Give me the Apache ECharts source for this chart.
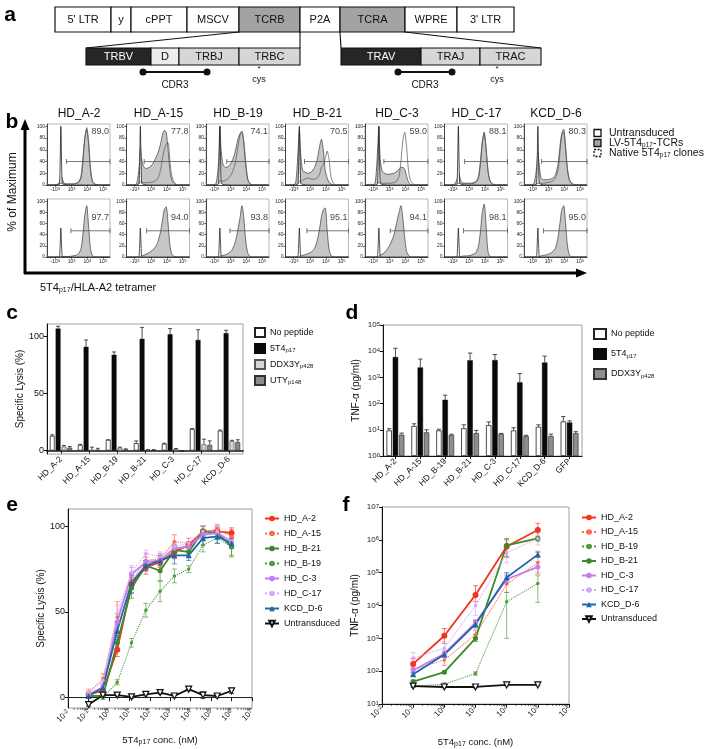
<!DOCTYPE html>
<html><head><meta charset="utf-8">
<script src="https://cdn.jsdelivr.net/npm/echarts@6/dist/echarts.min.js"></script>
<style>html,body{margin:0;padding:0;background:#fff}#c{width:709px;height:749px}</style>
</head><body><div id="c"></div>
<script>
// ================= DATA =================
// Panel a: vector map labels
var vectorTop = ["5' LTR", "y", "cPPT", "MSCV", "TCRB", "P2A", "TCRA", "WPRE", "3' LTR"];
var vectorBeta = ["TRBV", "D", "TRBJ", "TRBC"];
var vectorAlpha = ["TRAV", "TRAJ", "TRAC"];

// Panel b: flow histograms (x = display position on biexponential scale 0-100)
var donors = ["HD_A-2", "HD_A-15", "HD_B-19", "HD_B-21", "HD_C-3", "HD_C-17", "KCD_D-6"];
var histTickPos = [13, 22, 39, 64, 89];
var histTickText = ["-10{s|3}", "0", "10{s|3}", "10{s|4}", "10{s|5}"];
var histX = [0, 10, 16, 20, 22, 24, 27, 31, 36, 41, 46, 50, 54, 57, 60, 63, 66, 69, 72, 76, 82, 100];
var histUntrTop = [0, 0, 0, 2, 100, 3, 1, 0.5, 0, 0, 0, 0, 0, 0, 0, 0, 0, 0, 0, 0, 0, 0];
var histUntrBottom = [0, 0, 0, 1, 52, 1, 0, 0, 0, 0, 0, 0, 0, 0, 0, 0, 0, 0, 0, 0, 0, 0];
var histLVTop = [
  [0, 0, 1, 5, 15, 12, 3, 2, 2, 2, 3, 5, 15, 45, 80, 95, 70, 25, 6, 1, 0, 0],
  [0, 0, 2, 30, 65, 45, 32, 28, 30, 35, 45, 55, 70, 85, 93, 90, 60, 25, 8, 2, 0, 0],
  [0, 0, 3, 40, 100, 60, 35, 30, 32, 40, 55, 75, 88, 90, 70, 35, 10, 3, 1, 0, 0, 0],
  [0, 0, 3, 60, 95, 55, 25, 22, 20, 22, 30, 42, 65, 78, 60, 25, 12, 5, 2, 0, 0, 0],
  [0, 0, 3, 60, 100, 45, 25, 20, 18, 19, 20, 23, 27, 30, 30, 27, 15, 5, 1, 0, 0, 0],
  [0, 0, 2, 10, 22, 15, 5, 3, 3, 3, 4, 6, 15, 40, 75, 90, 60, 25, 8, 2, 0, 0],
  [0, 0, 3, 30, 55, 35, 12, 9, 9, 10, 12, 18, 35, 65, 88, 95, 65, 28, 10, 3, 0, 0]
];
var histNativeTop = [
  [0, 0, 0, 1, 3, 2, 1, 1, 1, 1, 2, 4, 12, 40, 80, 98, 75, 30, 8, 2, 0, 0],
  [0, 0, 0, 2, 6, 5, 4, 4, 4, 5, 7, 12, 25, 45, 60, 70, 72, 40, 15, 4, 0, 0],
  [0, 0, 0, 2, 8, 8, 6, 8, 12, 20, 35, 60, 85, 92, 75, 40, 12, 3, 1, 0, 0, 0],
  [0, 0, 0, 2, 6, 6, 8, 10, 12, 10, 10, 12, 18, 30, 35, 45, 58, 45, 15, 3, 0, 0],
  [0, 0, 0, 2, 5, 4, 3, 3, 3, 3, 4, 6, 15, 40, 75, 90, 65, 25, 8, 2, 0, 0],
  [0, 0, 0, 1, 3, 3, 2, 2, 2, 2, 3, 5, 12, 35, 70, 88, 65, 25, 8, 2, 0, 0],
  [0, 0, 0, 1, 3, 3, 3, 3, 4, 5, 7, 12, 25, 55, 85, 90, 60, 25, 8, 2, 0, 0]
];
var histLVBottom = [
  [0, 0, 0, 0, 1, 1, 1, 1, 1, 2, 3, 6, 15, 40, 75, 92, 55, 15, 3, 0, 0, 0],
  [0, 0, 0, 0, 1, 2, 3, 5, 8, 12, 18, 28, 45, 65, 85, 90, 60, 20, 5, 1, 0, 0],
  [0, 0, 0, 0, 1, 2, 3, 4, 7, 12, 25, 45, 70, 92, 70, 30, 8, 2, 0, 0, 0, 0],
  [0, 0, 0, 0, 1, 2, 3, 4, 6, 9, 15, 28, 50, 72, 85, 88, 50, 15, 3, 0, 0, 0],
  [0, 0, 0, 0, 1, 3, 5, 8, 15, 25, 40, 60, 80, 92, 70, 35, 10, 3, 0, 0, 0, 0],
  [0, 0, 0, 0, 1, 1, 1, 2, 2, 3, 5, 8, 20, 45, 80, 95, 55, 10, 1, 0, 0, 0],
  [0, 0, 0, 0, 1, 1, 2, 3, 4, 6, 10, 16, 35, 60, 85, 92, 60, 20, 4, 0, 0, 0]
];
var gateStartTop = [31, 28, 33, 30, 30, 32, 28];
var gateStartBottom = [38, 32, 38, 34, 40, 30, 31];
var gatePctTop = ["89.0", "77.8", "74.1", "70.5", "59.0", "88.1", "80.3"];
var gatePctBottom = ["97.7", "94.0", "93.8", "95.1", "94.1", "98.1", "95.0"];

// Panel c: specific lysis (%)
var lysisNoPep = [13, 5, 9.5, 6.5, 6, 19, 17.5];
var lysisNoPepErr = [0.8, 0.5, 0, 2, 0.5, 0.3, 0.5];
var lysis5T4 = [107, 91, 84, 98, 102, 97, 103];
var lysis5T4Err = [2, 6, 2.5, 10, 5, 9, 2.5];
var lysisDDX = [3.5, 0.5, 2.5, 0.5, 1.5, 5.5, 8.5];
var lysisDDXErr = [1, 2.5, 0.5, 0.3, 0.3, 4.5, 0.5];
var lysisUTY = [2.5, 0.5, 1, 0.5, -0.5, 5, 7.5];
var lysisUTYErr = [1, 1.5, 0.5, 0.3, 0, 3.5, 2];

// Panel d: TNF-alpha (pg/ml)
var tnfCats = ["HD_A-2", "HD_A-15", "HD_B-19", "HD_B-21", "HD_C-3", "HD_C-17", "KCD_D-6", "GFP"];
var tnfNoPep = [9.5, 14, 9.5, 11.5, 15, 9.5, 13, 21];
var tnfNoPepHi = [11, 17, 10.5, 15.5, 20, 12, 15.5, 32];
var tnf5T4 = [6000, 2400, 140, 4500, 4600, 650, 3700, 19];
var tnf5T4Hi = [13000, 5000, 210, 8500, 7500, 1400, 6500, 22];
var tnfDDX = [6.5, 8, 6.3, 7.5, 7, 5.8, 5.8, 7.5];
var tnfDDXHi = [7.5, 10, 6.8, 9.5, 7.3, 6.2, 6.8, 8.5];

// Panel e: specific lysis vs peptide concentration (nM)
var concE = [0.1024, 0.512, 2.56, 12.8, 64, 320, 1600, 8000, 40000, 200000, 1000000];
var eA2 = [2, 4, 28, 66, 76, 79, 85, 89, 97, 97, 96];
var eA2Err = [1, 1, 4, 5, 4, 3, 4, 2, 3, 3, 3];
var eA15 = [3, 11, 47, 68, 80, 81, 91, 90, 97, 98, 94];
var eA15Err = [2, 3, 9, 5, 4, 3, 4, 3, 3, 3, 4];
var eB21 = [1, 1, 32, 64, 77, 74, 86, 85, 97, 96, 88];
var eB21Err = [1, 1, 4, 6, 3, 6, 3, 3, 3, 3, 5];
var eB19 = [1, 0, 9, 32, 51, 62, 71, 75, 89, 93, 88];
var eB19Err = [1, 1, 1.5, 2.5, 4, 6, 4, 2, 4, 3, 6];
var eC3 = [2, 6, 44, 72, 79, 80, 87, 88, 95, 96, 91];
var eC3Err = [1, 2, 5, 4, 3, 3, 3, 3, 3, 3, 3];
var eC17 = [3, 10, 49, 73, 84, 82, 88, 90, 97, 97, 91];
var eC17Err = [1, 2, 5, 4, 2, 3, 3, 3, 3, 3, 3];
var eD6 = [1, 6, 39, 67, 77, 80, 83, 83, 93, 94, 90];
var eD6Err = [1, 1, 5, 6, 3, 3, 5, 3, 4, 4, 3];
var eUntr = [-4, 1.5, 1.5, 0.5, 2, 3, 1, 5, 1.5, 1, 4];
var eUntrErr = [1, 1, 1, 1, 1, 1, 1, 1, 2, 1, 1.5];

// Panel f: TNF-alpha vs peptide concentration (nM)
var concF = [0.1, 1, 10, 100, 1000];
var fA2 = [166, 1200, 21000, 630000, 2000000];
var fA2Hi = [240, 2000, 40000, 1100000, 3200000];
var fA2Lo = [120, 700, 13000, 300000, 1200000];
var fA15 = [110, 220, 1300, 45000, 200000];
var fA15Hi = [150, 300, 1800, 80000, 450000];
var fA15Lo = [80, 150, 900, 25000, 90000];
var fB19 = [35, 40, 85, 13000, 47000];
var fB19Hi = [38, 44, 95, 25000, 80000];
var fB19Lo = [32, 36, 75, 1000, 12500];
var fB21 = [48, 93, 1000, 680000, 1100000];
var fB21Hi = [55, 100, 1300, 1000000, 1300000];
var fB21Lo = [42, 85, 800, 300000, 900000];
var fC3 = [107, 340, 3000, 63000, 150000];
var fC3Hi = [130, 420, 3700, 90000, 220000];
var fC3Lo = [90, 280, 2400, 45000, 100000];
var fC17 = [250, 500, 10000, 400000, 1100000];
var fC17Hi = [370, 800, 18000, 700000, 1600000];
var fC17Lo = [170, 300, 5000, 200000, 700000];
var fD6 = [80, 320, 2700, 71000, 355000];
var fD6Hi = [90, 380, 3500, 100000, 420000];
var fD6Lo = [70, 270, 2100, 50000, 300000];
var fUntr = [35, 33, 33, 38, 38];
var fUntrHi = [37, 35, 35, 40, 40];
var fUntrLo = [33, 31, 31, 36, 36];

// ================= BUILD =================
var FONT = "'Liberation Sans', Arial, sans-serif";
var NARROW = "'Liberation Sans Narrow', 'Liberation Sans', Arial, sans-serif";
var chart = echarts.init(document.getElementById('c'));
var grids = [], xAxes = [], yAxes = [], series = [], graphics = [], legends = [];

function zip(xs, ys) { return xs.map(function (x, i) { return [x, ys[i]]; }); }
function logLabel(v) { var p = Math.round(Math.log10(v)); return '10{s|' + p + '}'; }
var supRich = { s: { fontSize: 6, verticalAlign: 'top', fontFamily: FONT, color: '#222' } };
var decades = function (a, b) { var r = []; for (var k = a; k <= b; k++) r.push(Math.pow(10, k)); return r; };
var minorLog = function (a, b) { var r = []; for (var k = a; k < b; k++) for (var m = 2; m <= 9; m++) r.push(m * Math.pow(10, k)); return r; };

// ---- panel labels
[['a', 10, 15], ['b', 12, 122], ['c', 12, 313], ['d', 352, 313], ['e', 12, 505], ['f', 346, 505]].forEach(function (p) {
  graphics.push({ type: 'text', x: p[1], y: p[2], style: { text: p[0], font: 'bold 21px ' + FONT, fill: '#000', textAlign: 'center', textVerticalAlign: 'middle' } });
});

// ---- panel a
var topEdges = [55, 111, 131, 187, 239, 300, 340, 405, 457, 514];
var topFill = ['#fff', '#fff', '#fff', '#fff', '#a3a3a3', '#fff', '#a3a3a3', '#fff', '#fff'];
vectorTop.forEach(function (t, i) {
  graphics.push({ type: 'rect', shape: { x: topEdges[i], y: 7, width: topEdges[i + 1] - topEdges[i], height: 25 }, style: { fill: topFill[i], stroke: '#111', lineWidth: 1.2 } });
  graphics.push({ type: 'text', x: (topEdges[i] + topEdges[i + 1]) / 2, y: 19.5, style: { text: t, font: '11px ' + NARROW, fill: '#111', textAlign: 'center', textVerticalAlign: 'middle' } });
});
function subBoxes(labels, edges, fills) {
  labels.forEach(function (t, i) {
    graphics.push({ type: 'rect', shape: { x: edges[i], y: 48, width: edges[i + 1] - edges[i], height: 17 }, style: { fill: fills[i], stroke: '#111', lineWidth: 1.1 } });
    graphics.push({ type: 'text', x: (edges[i] + edges[i + 1]) / 2, y: 56.5, style: { text: t, font: '11px ' + NARROW, fill: i === 0 ? '#fff' : '#111', textAlign: 'center', textVerticalAlign: 'middle' } });
  });
}
subBoxes(vectorBeta, [86, 151, 179, 239, 300], ['#262626', '#ececec', '#d6d6d6', '#d6d6d6']);
subBoxes(vectorAlpha, [341, 421, 480, 541], ['#262626', '#d6d6d6', '#d6d6d6']);
[[239, 32, 86, 48], [300, 32, 300, 48], [340, 32, 341, 48], [405, 32, 541, 48]].forEach(function (l) {
  graphics.push({ type: 'line', shape: { x1: l[0], y1: l[1], x2: l[2], y2: l[3] }, style: { stroke: '#111', lineWidth: 1.1 } });
});
[[143, 207, 175], [398, 452, 425]].forEach(function (d) {
  graphics.push({ type: 'line', shape: { x1: d[0], y1: 72, x2: d[1], y2: 72 }, style: { stroke: '#111', lineWidth: 2 } });
  graphics.push({ type: 'circle', shape: { cx: d[0], cy: 72, r: 3.5 }, style: { fill: '#111' } });
  graphics.push({ type: 'circle', shape: { cx: d[1], cy: 72, r: 3.5 }, style: { fill: '#111' } });
  graphics.push({ type: 'text', x: d[2], y: 85, style: { text: 'CDR3', font: '10px ' + FONT, fill: '#111', textAlign: 'center', textVerticalAlign: 'middle' } });
});
[259, 497].forEach(function (x) {
  graphics.push({ type: 'text', x: x, y: 69, style: { text: '*', font: '8px ' + FONT, fill: '#111', textAlign: 'center', textVerticalAlign: 'middle' } });
  graphics.push({ type: 'text', x: x, y: 80, style: { text: 'cys', font: '9px ' + FONT, fill: '#111', textAlign: 'center', textVerticalAlign: 'middle' } });
});

// ---- panel b
for (var r = 0; r < 2; r++) {
  for (var i = 0; i < 7; i++) {
    var gi = grids.length;
    var left = 47 + i * 79.5;
    grids.push({ left: left, top: r ? 199 : 124, width: 63, height: r ? 58 : 61, show: true, borderColor: '#9a9a9a', borderWidth: 0.7 });
    xAxes.push({
      gridIndex: gi, type: 'value', min: 0, max: 100,
      axisLine: { lineStyle: { color: '#222', width: 0.8 } }, splitLine: { show: false },
      axisTick: { customValues: histTickPos, length: 2, lineStyle: { color: '#222', width: 0.6 } },
      axisLabel: {
        customValues: histTickPos, fontSize: 5, margin: 2, color: '#222', fontFamily: FONT, hideOverlap: false, showMinLabel: true,
        formatter: function (v) { return histTickText[histTickPos.indexOf(v)]; },
        rich: { s: { fontSize: 4, verticalAlign: 'top', fontFamily: FONT, color: '#222' } }
      }
    });
    yAxes.push({
      gridIndex: gi, type: 'value', min: 0, max: 104,
      axisLine: { show: true, lineStyle: { color: '#222', width: 0.8 } }, splitLine: { show: false },
      axisTick: { show: true, customValues: [0, 20, 40, 60, 80, 100], length: 2, lineStyle: { color: '#222', width: 0.6 } },
      axisLabel: { customValues: [0, 20, 40, 60, 80, 100], fontSize: 5, margin: 2, color: '#222', fontFamily: FONT }
    });
    var lv = r ? histLVBottom[i] : histLVTop[i];
    series.push({ type: 'line', xAxisIndex: gi, yAxisIndex: gi, data: zip(histX, lv), smooth: 0.25, symbol: 'none', silent: true,
      lineStyle: { color: '#3a3a3a', width: 0.7 }, areaStyle: { color: '#c6c6c6', opacity: 1 }, z: 2 });
    if (r === 0) {
      series.push({ type: 'line', xAxisIndex: gi, yAxisIndex: gi, data: zip(histX, histUntrTop), smooth: 0.15, symbol: 'none', silent: true,
        lineStyle: { color: '#1a1a1a', width: 0.8 }, areaStyle: { color: '#ffffff', opacity: 1 }, z: 3 });
      series.push({ type: 'line', xAxisIndex: gi, yAxisIndex: gi, data: zip(histX, histNativeTop[i]), smooth: 0.25, symbol: 'none', silent: true,
        lineStyle: { color: '#555', width: 0.7 }, z: 4 });
    } else {
      series.push({ type: 'line', xAxisIndex: gi, yAxisIndex: gi, data: zip(histX, histUntrBottom), smooth: 0.1, symbol: 'none', silent: true,
        lineStyle: { color: '#222', width: 0.8 }, z: 3 });
    }
    var gy = r ? 47 : 40;
    series.push({ type: 'line', xAxisIndex: gi, yAxisIndex: gi, data: [[r ? gateStartBottom[i] : gateStartTop[i], gy], [100, gy]], silent: true,
      symbol: 'rect', symbolSize: [0.8, 5], itemStyle: { color: '#555' }, lineStyle: { color: '#555', width: 0.8 }, z: 5 });
    series.push({ type: 'scatter', xAxisIndex: gi, yAxisIndex: gi, data: [[100, r ? 70 : 91]], symbolSize: 0, silent: true, z: 6,
      label: { show: true, position: 'left', distance: 1, formatter: (r ? gatePctBottom[i] : gatePctTop[i]), fontSize: 9, color: '#111', fontFamily: FONT } });
    if (r === 0) {
      graphics.push({ type: 'text', x: left + 32, y: 114, style: { text: donors[i], font: '12px ' + FONT, fill: '#111', textAlign: 'center', textVerticalAlign: 'middle' } });
    }
  }
}
// b axes arrows and titles
graphics.push({ type: 'line', shape: { x1: 25, y1: 274, x2: 25, y2: 128 }, style: { stroke: '#000', lineWidth: 3 } });
graphics.push({ type: 'polygon', shape: { points: [[25, 119], [20.5, 130], [29.5, 130]] }, style: { fill: '#000' } });
graphics.push({ type: 'line', shape: { x1: 24, y1: 273, x2: 577, y2: 273 }, style: { stroke: '#000', lineWidth: 3 } });
graphics.push({ type: 'polygon', shape: { points: [[587, 273], [576, 268.5], [576, 277.5]] }, style: { fill: '#000' } });
graphics.push({ type: 'text', x: 13, y: 192, rotation: Math.PI / 2, style: { text: '% of Maximum', font: '12px ' + FONT, fill: '#111', textAlign: 'center', textVerticalAlign: 'middle' } });
graphics.push({ type: 'text', x: 40, y: 288, style: { text: '5T4{sub|p17}/HLA-A2 tetramer', font: '11px ' + FONT, fill: '#111', textAlign: 'left', textVerticalAlign: 'middle',
  rich: { sub: { fontSize: 7, verticalAlign: 'bottom', fontFamily: FONT, fill: '#111', padding: [5, 0, 0, 0] } } } });
// b legend
[['Untransduced', '#fff', 'solid', 133], ['LV-5T4{sub|p17}-TCRs', '#a8a8a8', 'solid', 143], ['Native 5T4{sub|p17} clones', '#fff', 'dashed', 153]].forEach(function (it) {
  graphics.push({ type: 'rect', shape: { x: 594, y: it[3] - 3.5, width: 7, height: 7 }, style: { fill: it[1], stroke: '#111', lineWidth: 1.3, lineDash: it[2] === 'dashed' ? [2, 1.5] : null } });
  graphics.push({ type: 'text', x: 609, y: it[3], style: { text: it[0], font: '10.5px ' + FONT, fill: '#111', textAlign: 'left', textVerticalAlign: 'middle',
    rich: { sub: { fontSize: 6.5, verticalAlign: 'bottom', fontFamily: FONT, fill: '#111', padding: [4, 0, 0, 0] } } } });
});

// ---- generic helpers for bar error bars
function groupErr(idx, n, catGap, gap, color) {
  return function (params, api) {
    var ci = api.value(0), v = api.value(1), hi = api.value(2);
    var band = api.size([1, 0])[0];
    var usable = band * (1 - catGap);
    var bw = usable / (n + (n - 1) * gap);
    var base = api.coord([ci, v]);
    var top = api.coord([ci, hi]);
    var cx = base[0] - usable / 2 + bw / 2 + idx * bw * (1 + gap);
    var cap = bw * 0.4;
    return { type: 'group', children: [
      { type: 'line', shape: { x1: cx, y1: base[1], x2: cx, y2: top[1] }, style: { stroke: color, lineWidth: 0.8 } },
      { type: 'line', shape: { x1: cx - cap, y1: top[1], x2: cx + cap, y2: top[1] }, style: { stroke: color, lineWidth: 0.8 } }
    ] };
  };
}
function axisCommon() {
  return { axisLine: { show: true, lineStyle: { color: '#111', width: 1 } }, splitLine: { show: false } };
}

// ---- panel c
var gc = grids.length;
grids.push({ left: 47, top: 324, width: 196, height: 130, show: true, borderColor: '#888', borderWidth: 0.8 });
xAxes.push(Object.assign(axisCommon(), { gridIndex: gc, type: 'category', data: donors,
  axisLine: { show: true, lineStyle: { color: '#111', width: 1.6 } },
  axisTick: { show: true, alignWithLabel: true, length: 3, lineStyle: { color: '#111' } },
  axisLabel: { interval: 0, rotate: 45, fontSize: 8.5, margin: 4, color: '#111', fontFamily: FONT } }));
yAxes.push(Object.assign(axisCommon(), { gridIndex: gc, type: 'value', min: -3, max: 111,
  name: 'Specific Lysis (%)', nameLocation: 'middle', nameGap: 21, nameTextStyle: { fontSize: 10, color: '#111', fontFamily: FONT },
  axisTick: { show: true, customValues: [0, 50, 100], length: 3, lineStyle: { color: '#111' } },
  axisLabel: { customValues: [0, 50, 100], fontSize: 9, margin: 3, color: '#111', fontFamily: FONT } }));
var cSeries = [
  ['c0', lysisNoPep, lysisNoPepErr, { color: '#fff', borderColor: '#222', borderWidth: 0.8 }],
  ['c1', lysis5T4, lysis5T4Err, { color: '#0a0a0a', borderColor: '#0a0a0a', borderWidth: 0.5 }],
  ['c2', lysisDDX, lysisDDXErr, { color: '#d6d6d6', borderColor: '#555', borderWidth: 0.7 }],
  ['c3', lysisUTY, lysisUTYErr, { color: '#8c8c8c', borderColor: '#333', borderWidth: 0.7 }]
];
cSeries.forEach(function (s, k) {
  series.push({ name: s[0], type: 'bar', xAxisIndex: gc, yAxisIndex: gc, data: s[1], barCategoryGap: '20%', barGap: '20%', itemStyle: s[3], silent: true, z: 2 });
  series.push({ type: 'custom', xAxisIndex: gc, yAxisIndex: gc, silent: true, z: 3,
    data: s[1].map(function (v, j) { return [j, v, v + s[2][j]]; }), renderItem: groupErr(k, 4, 0.2, 0.2, '#222') });
});
var cNames = { c0: 'No peptide', c1: '5T4{sub|p17}', c2: 'DDX3Y{sub|p428}', c3: 'UTY{sub|p148}' };
legends.push({ left: 249, top: 322, orient: 'vertical', itemWidth: 10, itemHeight: 9, itemGap: 5, selectedMode: false, icon: 'rect',
  data: ['c0', 'c1', 'c2', 'c3'], formatter: function (n) { return cNames[n]; },
  textStyle: { fontSize: 9, color: '#111', fontFamily: FONT, rich: { sub: { fontSize: 6, verticalAlign: 'bottom', padding: [4, 0, 0, 0], fontFamily: FONT } } } });

// ---- panel d
var gd = grids.length;
grids.push({ left: 383, top: 325, width: 199, height: 131, show: true, borderColor: '#888', borderWidth: 0.8 });
xAxes.push(Object.assign(axisCommon(), { gridIndex: gd, type: 'category', data: tnfCats,
  axisLine: { show: true, lineStyle: { color: '#111', width: 1.2 } },
  axisTick: { show: true, alignWithLabel: true, length: 3, lineStyle: { color: '#111' } },
  axisLabel: { interval: 0, rotate: 45, fontSize: 8.5, margin: 4, color: '#111', fontFamily: FONT } }));
yAxes.push(Object.assign(axisCommon(), { gridIndex: gd, type: 'log', logBase: 10, min: 1, max: 100000,
  name: 'TNF-α (pg/ml)', nameLocation: 'middle', nameGap: 22, nameTextStyle: { fontSize: 10, color: '#111', fontFamily: FONT },
  axisTick: { show: true, customValues: decades(0, 5), length: 3, lineStyle: { color: '#111' } },
  axisLabel: { customValues: decades(0, 5), fontSize: 8, margin: 3, color: '#222', fontFamily: FONT, formatter: logLabel, rich: supRich } }));
var dSeries = [
  ['d0', tnfNoPep, tnfNoPepHi, { color: '#fff', borderColor: '#222', borderWidth: 0.8 }],
  ['d1', tnf5T4, tnf5T4Hi, { color: '#0a0a0a', borderColor: '#0a0a0a', borderWidth: 0.5 }],
  ['d2', tnfDDX, tnfDDXHi, { color: '#8e8e8e', borderColor: '#333', borderWidth: 0.7 }]
];
dSeries.forEach(function (s, k) {
  series.push({ name: s[0], type: 'bar', xAxisIndex: gd, yAxisIndex: gd, data: s[1], barCategoryGap: '28%', barGap: '15%', itemStyle: s[3], silent: true, z: 2 });
  series.push({ type: 'custom', xAxisIndex: gd, yAxisIndex: gd, silent: true, z: 3,
    data: s[1].map(function (v, j) { return [j, v, s[2][j]]; }), renderItem: groupErr(k, 3, 0.28, 0.15, '#222') });
});
var dNames = { d0: 'No peptide', d1: '5T4{sub|p17}', d2: 'DDX3Y{sub|p428}' };
legends.push({ left: 588, top: 323, orient: 'vertical', itemWidth: 12, itemHeight: 10, itemGap: 8, selectedMode: false, icon: 'rect',
  data: ['d0', 'd1', 'd2'], formatter: function (n) { return dNames[n]; },
  textStyle: { fontSize: 9, color: '#111', fontFamily: FONT, rich: { sub: { fontSize: 6, verticalAlign: 'bottom', padding: [4, 0, 0, 0], fontFamily: FONT } } } });

// ---- line panels e and f
var RED = '#f2361d', RED2 = '#ff6a4a', GRN = '#3a8a2a', GRN2 = '#4e9e3c', VIO = '#c27ef0', VIO2 = '#d8a6f7', BLU = '#2165aa';
function curve(panel, gi, xi, label, xs, ys, lo, hi, color, dotted, symbol, size, extra) {
  var s = { name: panel + label, type: 'line', xAxisIndex: xi, yAxisIndex: gi, data: zip(xs, ys), silent: true, z: 4,
    symbol: symbol, symbolSize: size, lineStyle: { color: color, width: dotted ? 1.1 : 1.8, type: dotted ? 'dotted' : 'solid' },
    itemStyle: { color: color } };
  if (extra) Object.assign(s, extra);
  series.push(s);
  series.push({ type: 'custom', xAxisIndex: xi, yAxisIndex: gi, silent: true, z: 3,
    data: xs.map(function (x, j) { return [x, lo[j], hi[j]]; }),
    renderItem: function (params, api) {
      var a = api.coord([api.value(0), api.value(1)]), b = api.coord([api.value(0), api.value(2)]);
      var st = { stroke: color, lineWidth: 0.8, opacity: 0.85 };
      return { type: 'group', children: [
        { type: 'line', shape: { x1: a[0], y1: a[1], x2: b[0], y2: b[1] }, style: st },
        { type: 'line', shape: { x1: a[0] - 2.5, y1: a[1], x2: a[0] + 2.5, y2: a[1] }, style: st },
        { type: 'line', shape: { x1: b[0] - 2.5, y1: b[1], x2: b[0] + 2.5, y2: b[1] }, style: st }
      ] };
    } });
}
function minus(v, e) { return v.map(function (x, i) { return x - e[i]; }); }
function plus(v, e) { return v.map(function (x, i) { return x + e[i]; }); }
var untrExtra = { symbolRotate: 180, itemStyle: { color: '#fff', borderColor: '#111', borderWidth: 1.2 } };
var subRich = { sub: { fontSize: 7, verticalAlign: 'bottom', padding: [4, 0, 0, 0], fontFamily: FONT, color: '#111' } };

// panel e
var ge = grids.length;
grids.push({ left: 68, top: 509, width: 184, height: 199, show: true, borderColor: '#888', borderWidth: 0.8 });
var xe = xAxes.length;
xAxes.push(Object.assign(axisCommon(), { gridIndex: ge, type: 'log', logBase: 10, min: 0.01, max: 10000000, position: 'bottom',
  name: '5T4{sub|p17} conc. (nM)', nameLocation: 'middle', nameGap: 27, nameTextStyle: { fontSize: 9.5, color: '#111', fontFamily: FONT, rich: subRich },
  axisTick: { show: true, customValues: decades(-2, 7), length: 3.5, lineStyle: { color: '#111' } },
  axisLabel: { customValues: decades(-2, 7), rotate: 45, fontSize: 8, margin: 3, color: '#222', fontFamily: FONT, formatter: logLabel, rich: supRich } }));
yAxes.push(Object.assign(axisCommon(), { gridIndex: ge, type: 'value', min: -6, max: 110,
  name: 'Specific Lysis (%)', nameLocation: 'middle', nameGap: 22, nameTextStyle: { fontSize: 10, color: '#111', fontFamily: FONT },
  axisTick: { show: true, customValues: [0, 50, 100], length: 3, lineStyle: { color: '#111' } },
  axisLabel: { customValues: [0, 50, 100], fontSize: 9, margin: 3, color: '#111', fontFamily: FONT } }));
curve('e:', ge, xe, 'HD_A-2', concE, eA2, minus(eA2, eA2Err), plus(eA2, eA2Err), RED, false, 'circle', 6);
curve('e:', ge, xe, 'HD_A-15', concE, eA15, minus(eA15, eA15Err), plus(eA15, eA15Err), RED2, true, 'circle', 3.5);
curve('e:', ge, xe, 'HD_B-21', concE, eB21, minus(eB21, eB21Err), plus(eB21, eB21Err), GRN, false, 'circle', 5);
curve('e:', ge, xe, 'HD_B-19', concE, eB19, minus(eB19, eB19Err), plus(eB19, eB19Err), GRN2, true, 'circle', 3.5);
curve('e:', ge, xe, 'HD_C-3', concE, eC3, minus(eC3, eC3Err), plus(eC3, eC3Err), VIO, false, 'circle', 5);
curve('e:', ge, xe, 'HD_C-17', concE, eC17, minus(eC17, eC17Err), plus(eC17, eC17Err), VIO2, true, 'circle', 3.5);
curve('e:', ge, xe, 'KCD_D-6', concE, eD6, minus(eD6, eD6Err), plus(eD6, eD6Err), BLU, false, 'triangle', 6);
curve('e:', ge, xe, 'Untransduced', concE, eUntr, minus(eUntr, eUntrErr), plus(eUntr, eUntrErr), '#111', false, 'triangle', 6,
  Object.assign({ markLine: { silent: true, symbol: 'none', label: { show: false }, data: [{ yAxis: 0 }], lineStyle: { type: 'dotted', color: '#333', width: 1 } } }, untrExtra));
legends.push({ left: 259, top: 509, orient: 'vertical', itemWidth: 14, itemHeight: 7, itemGap: 6, selectedMode: false,
  data: ['e:HD_A-2', 'e:HD_A-15', 'e:HD_B-21', 'e:HD_B-19', 'e:HD_C-3', 'e:HD_C-17', 'e:KCD_D-6', 'e:Untransduced'],
  formatter: function (n) { return n.slice(2); }, textStyle: { fontSize: 9, color: '#111', fontFamily: FONT } });

// panel f
var gf = grids.length;
grids.push({ left: 382, top: 507, width: 187, height: 200, show: true, borderColor: '#888', borderWidth: 0.8 });
var xf = xAxes.length;
xAxes.push(Object.assign(axisCommon(), { gridIndex: gf, type: 'log', logBase: 10, min: 0.01, max: 10000, position: 'bottom',
  name: '5T4{sub|p17} conc. (nM)', nameLocation: 'middle', nameGap: 33, nameTextStyle: { fontSize: 9.5, color: '#111', fontFamily: FONT, rich: subRich },
  axisTick: { show: true, customValues: decades(-2, 4), length: 3.5, lineStyle: { color: '#111' } },
  axisLabel: { customValues: decades(-2, 4), rotate: 45, fontSize: 8, margin: 3, color: '#222', fontFamily: FONT, formatter: logLabel, rich: supRich } }));
yAxes.push(Object.assign(axisCommon(), { gridIndex: gf, type: 'log', logBase: 10, min: 10, max: 10000000,
  name: 'TNF-α (pg/ml)', nameLocation: 'middle', nameGap: 22, nameTextStyle: { fontSize: 10, color: '#111', fontFamily: FONT },
  axisTick: { show: true, customValues: decades(1, 7), length: 3, lineStyle: { color: '#111' } },
  axisLabel: { customValues: decades(1, 7), fontSize: 8, margin: 3, color: '#222', fontFamily: FONT, formatter: logLabel, rich: supRich } }));
curve('f:', gf, xf, 'HD_A-2', concF, fA2, fA2Lo, fA2Hi, RED, false, 'circle', 6);
curve('f:', gf, xf, 'HD_A-15', concF, fA15, fA15Lo, fA15Hi, RED2, true, 'circle', 3.5);
curve('f:', gf, xf, 'HD_B-19', concF, fB19, fB19Lo, fB19Hi, GRN2, true, 'circle', 3.5);
curve('f:', gf, xf, 'HD_B-21', concF, fB21, fB21Lo, fB21Hi, GRN, false, 'circle', 5);
curve('f:', gf, xf, 'HD_C-3', concF, fC3, fC3Lo, fC3Hi, VIO, false, 'circle', 5);
curve('f:', gf, xf, 'HD_C-17', concF, fC17, fC17Lo, fC17Hi, VIO2, true, 'circle', 3.5);
curve('f:', gf, xf, 'KCD_D-6', concF, fD6, fD6Lo, fD6Hi, BLU, false, 'triangle', 6);
curve('f:', gf, xf, 'Untransduced', concF, fUntr, fUntrLo, fUntrHi, '#111', false, 'triangle', 6, untrExtra);
legends.push({ left: 576, top: 508, orient: 'vertical', itemWidth: 14, itemHeight: 7, itemGap: 5.5, selectedMode: false,
  data: ['f:HD_A-2', 'f:HD_A-15', 'f:HD_B-19', 'f:HD_B-21', 'f:HD_C-3', 'f:HD_C-17', 'f:KCD_D-6', 'f:Untransduced'],
  formatter: function (n) { return n.slice(2); }, textStyle: { fontSize: 9, color: '#111', fontFamily: FONT } });

// minor log ticks on e and f x axes, drawn as short marks through the axis scale
[[ge, xe, ge, minorLog(-2, 7), -6], [gf, xf, gf, minorLog(-2, 4), 10]].forEach(function (m) {
  series.push({ type: 'custom', xAxisIndex: m[1], yAxisIndex: m[2], silent: true, z: 1, clip: false,
    data: m[3].map(function (v) { return [v, m[4]]; }),
    renderItem: function (params, api) {
      var p = api.coord([api.value(0), api.value(1)]);
      return { type: 'line', shape: { x1: p[0], y1: p[1], x2: p[0], y2: p[1] + 2 }, style: { stroke: '#111', lineWidth: 0.6 } };
    } });
});

chart.setOption({
  animation: false,
  backgroundColor: '#fff',
  textStyle: { fontFamily: FONT },
  grid: grids, xAxis: xAxes, yAxis: yAxes, series: series, legend: legends,
  graphic: { elements: graphics }
});
</script></body></html>
